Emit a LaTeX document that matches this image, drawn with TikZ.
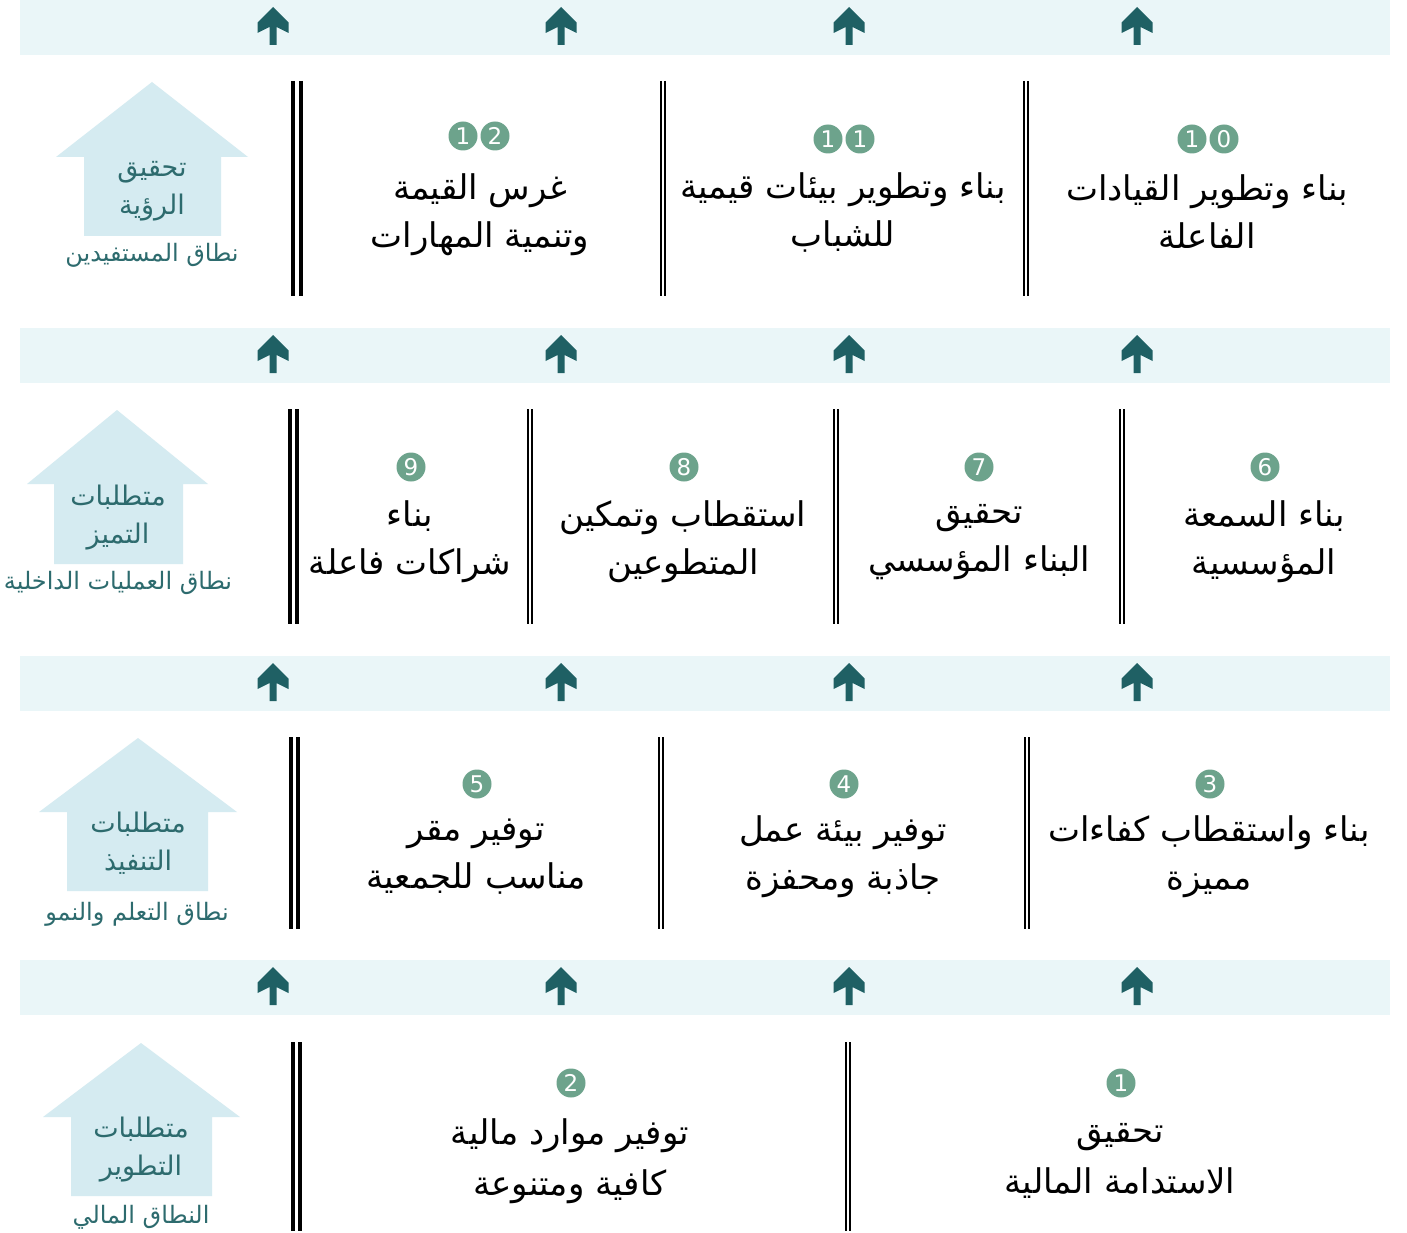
\documentclass[tikz,border=0pt]{standalone}
\usepackage{fontspec}
\TeXXeTstate=1
\newfontfamily\arf[Script=Arabic]{DejaVu Sans}
\definecolor{bandcol}{HTML}{EAF6F8}
\definecolor{arrcol}{HTML}{1F6064}
\definecolor{numcol}{HTML}{6DA38C}
\definecolor{housecol}{HTML}{D5EBF1}
\definecolor{housetxt}{HTML}{2D6B6E}
\tikzset{
  band/.style={fill=bandcol, draw=none},
  maintxt/.style={align=center, text=black, inner sep=0pt, font=\arf\fontsize{34}{48}\selectfont},
  maintxtw/.style={align=center, text=black, inner sep=0pt, font=\arf\fontsize{34}{51}\selectfont},
  numc/.style={circle, fill=numcol, minimum size=29pt, inner sep=0pt, text=white, font=\arf\fontsize{23}{23}\selectfont},
  housefill/.style={fill=housecol, draw=none},
  housetext/.style={align=center, text=housetxt, inner sep=0pt, font=\arf\fontsize{27}{38}\selectfont},
  scopetxt/.style={text=housetxt, inner sep=0pt, font=\arf\fontsize{24}{24}\selectfont},
  thickpair/.style={line width=4pt, draw=black},
  thinpair/.style={line width=2.2pt, draw=black},
  pics/uparrow/.style={code={
    \fill[arrcol] (0,-20) -- (15.5,-4.5) -- (15.5,6) -- (3.5,0) -- (3.5,18) -- (-3.5,18) -- (-3.5,0) -- (-15.5,6) -- (-15.5,-4.5) -- cycle;
  }}
}
\begin{document}
\begin{tikzpicture}[x=1pt,y=-1pt]
\useasboundingbox (0,0) rectangle (1407,1233);
\fill[white] (0,0) rectangle (1407,1233);

% bands with arrows
\foreach \by in {0,328,656,960}{
  \fill[band] (20,\by) rectangle (1390,\by+55);
  \foreach \ax in {273,561,849,1137}{
    \pic at (\ax,\by+27) {uparrow};
  }
}

% houses
\fill[housefill] (152,82) -- (248,157) -- (221,157) -- (221,236) -- (84,236) -- (84,157) -- (56,157) -- cycle;
\fill[housefill] (117,410) -- (208,484) -- (183,484) -- (183,564) -- (54,564) -- (54,484) -- (27,484) -- cycle;
\fill[housefill] (138,738) -- (237,812) -- (208,812) -- (208,891) -- (67,891) -- (67,812) -- (39,812) -- cycle;
\fill[housefill] (141,1043) -- (240,1117) -- (212,1117) -- (212,1196) -- (71,1196) -- (71,1117) -- (43,1117) -- cycle;

\node[housetext] (h1) at (152,191) {\beginR تحقيق\endR\\\beginR الرؤية\endR};
\node[scopetxt] (s1) at (152,255) {\beginR نطاق المستفيدين\endR};
\node[housetext] (h2) at (118,518) {\beginR متطلبات\endR\\\beginR التميز\endR};
\node[scopetxt] (s2) at (118,583) {\beginR نطاق العمليات الداخلية\endR};
\node[housetext] (h3) at (138,843) {\beginR متطلبات\endR\\\beginR التنفيذ\endR};
\node[scopetxt] (s3) at (137,914) {\beginR نطاق التعلم والنمو\endR};
\node[housetext] (h4) at (141,1150) {\beginR متطلبات\endR\\\beginR التطوير\endR};
\node[scopetxt] (s4) at (141,1217) {\beginR النطاق المالي\endR};

% separators row 1
\draw[thickpair] (293,81) -- (293,296) (301,81) -- (301,296);
\draw[thinpair] (661,81) -- (661,296) (665,81) -- (665,296);
\draw[thinpair] (1024,81) -- (1024,296) (1028,81) -- (1028,296);
% row 2
\draw[thickpair] (290,409) -- (290,624) (297,409) -- (297,624);
\draw[thinpair] (528,409) -- (528,624) (532,409) -- (532,624);
\draw[thinpair] (834,409) -- (834,624) (838,409) -- (838,624);
\draw[thinpair] (1120,409) -- (1120,624) (1124,409) -- (1124,624);
% row 3
\draw[thickpair] (291,737) -- (291,929) (298,737) -- (298,929);
\draw[thinpair] (659,737) -- (659,929) (663,737) -- (663,929);
\draw[thinpair] (1025,737) -- (1025,929) (1029,737) -- (1029,929);
% row 4
\draw[thickpair] (293,1042) -- (293,1231) (300,1042) -- (300,1231);
\draw[thinpair] (846,1042) -- (846,1231) (850,1042) -- (850,1231);

% numbers
\node[numc] (n10a) at (1192,139) {1};
\node[numc] (n10b) at (1224,139) {0};
\node[numc] (n11a) at (828,139) {1};
\node[numc] (n11b) at (860,139) {1};
\node[numc] (n12a) at (463,136) {1};
\node[numc] (n12b) at (495,136) {2};
\node[numc] (n6) at (1265,467) {6};
\node[numc] (n7) at (979,467) {7};
\node[numc] (n8) at (684,467) {8};
\node[numc] (n9) at (411,467) {9};
\node[numc] (n5) at (477,784) {5};
\node[numc] (n4) at (844,784) {4};
\node[numc] (n3) at (1210,784) {3};
\node[numc] (n2) at (571,1083) {2};
\node[numc] (n1) at (1121,1083) {1};

% main texts
\node[maintxt] (t12) at (480,215) {\beginR غرس القيمة\endR\\\beginR وتنمية المهارات\endR};
\node[maintxt] (t11) at (843,212) {\beginR بناء وتطوير بيئات قيمية\endR\\\beginR للشباب\endR};
\node[maintxt] (t10) at (1207,212) {\beginR بناء وتطوير القيادات\endR\\\beginR الفاعلة\endR};

\node[maintxt] (t9) at (410,542) {\beginR بناء\endR\\\beginR شراكات فاعلة\endR};
\node[maintxt] (t8) at (683,542) {\beginR استقطاب وتمكين\endR\\\beginR المتطوعين\endR};
\node[maintxt] (t7) at (979,542) {\beginR تحقيق\endR\\\beginR البناء المؤسسي\endR};
\node[maintxt] (t6) at (1264,542) {\beginR بناء السمعة\endR\\\beginR المؤسسية\endR};

\node[maintxt] (t5) at (476,857) {\beginR توفير مقر\endR\\\beginR مناسب للجمعية\endR};
\node[maintxt] (t4) at (843,857) {\beginR توفير بيئة عمل\endR\\\beginR جاذبة ومحفزة\endR};
\node[maintxt] (t3) at (1209,857) {\beginR بناء واستقطاب كفاءات\endR\\\beginR مميزة\endR};

\node[maintxtw] (t2) at (570,1161) {\beginR توفير موارد مالية\endR\\\beginR كافية ومتنوعة\endR};
\node[maintxtw] (t1) at (1120,1161) {\beginR تحقيق\endR\\\beginR الاستدامة المالية\endR};
\end{tikzpicture}
\end{document}
